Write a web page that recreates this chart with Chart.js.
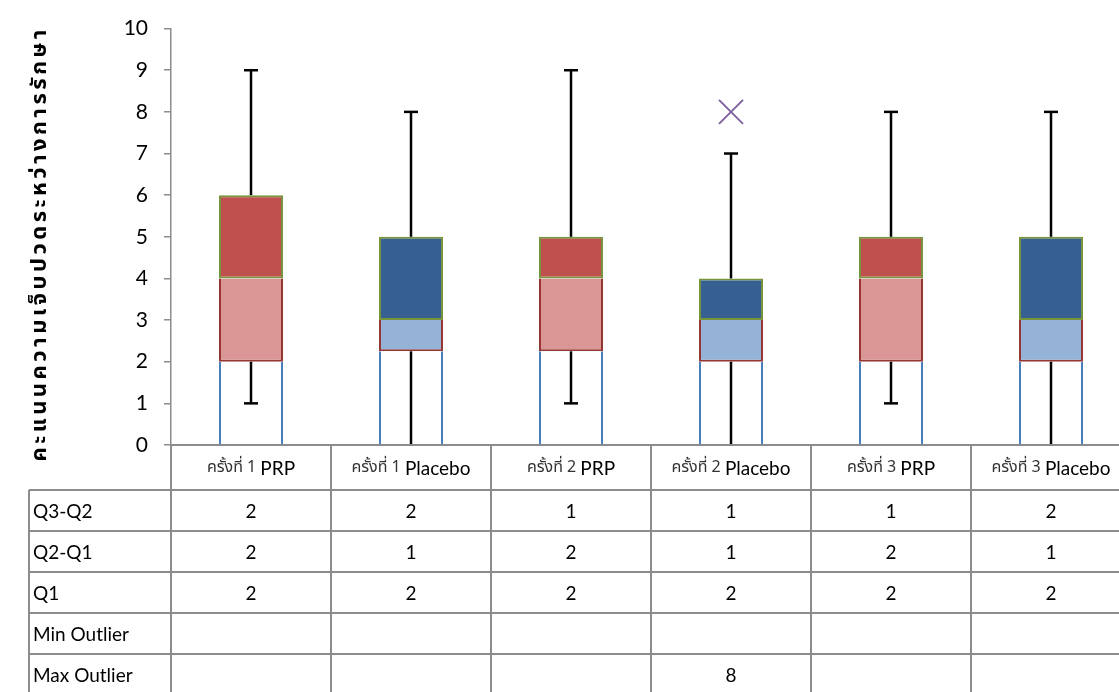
<!DOCTYPE html>
<html>
<head>
<meta charset="utf-8">
<script src="https://cdn.jsdelivr.net/npm/chart.js@4.4.0/dist/chart.umd.min.js"></script>
<style>
  html, body { margin: 0; padding: 0; background: #fff; overflow: hidden; }
  #wrap { width: 1160px; height: 692px; }
</style>
</head>
<body>
<div id="wrap"><canvas id="boxChart" width="1160" height="692"></canvas></div>
<script>
"use strict";

// categories: thai prefix + group name
const categories = ['ครั้งที่ 1 PRP', 'ครั้งที่ 1 Placebo', 'ครั้งที่ 2 PRP', 'ครั้งที่ 2 Placebo', 'ครั้งที่ 3 PRP', 'ครั้งที่ 3 Placebo'];

// stacked box parts (table shows them rounded)
const q1 = [2, 2.25, 2.25, 2, 2, 2];
const q2MinusQ1 = [2, 0.75, 1.75, 1, 2, 1];
const q3MinusQ2 = [2, 2, 1, 1, 1, 2];

// whisker ends
const whiskerLow = [1, 0, 1, 0, 1, 0];
const whiskerHigh = [9, 8, 9, 7, 8, 8];

const minOutlier = [null, null, null, null, null, null];
const maxOutlier = [null, null, null, 8, null, null];

const yTicks = [0, 1, 2, 3, 4, 5, 6, 7, 8, 9, 10];
const yTitle = 'คะแนนความเจ็บปวดระหว่างการรักษา';
const rowLabels = ['Q3-Q2', 'Q2-Q1', 'Q1', 'Min Outlier', 'Max Outlier'];

const FONT = "Lato, 'Open Sans', 'Noto Sans', 'Noto Sans Thai', 'DejaVu Sans', sans-serif";
const THAI_FONT = "'Noto Sans Thai', 'Noto Sans', Lato, sans-serif";
const GRID = '#8c8c8c';

const isPRP = categories.map(c => c.endsWith('PRP'));
const midColors = isPRP.map(p => p ? '#D99694' : '#95B3D7');
const topColors = isPRP.map(p => p ? '#C0504D' : '#376092');

// whiskers drawn on top of the boxes
const whiskerPlugin = {
    id: 'whiskers',
    afterDatasetsDraw(chart) {
        const { ctx, scales: { x, y } } = chart;
        ctx.save();
        ctx.strokeStyle = '#000';
        ctx.lineWidth = 2.5;
        categories.forEach((c, i) => {
            const cx = x.getPixelForValue(i);
            const boxTop = q1[i] + q2MinusQ1[i] + q3MinusQ2[i];
            [[q1[i], whiskerLow[i]], [boxTop, whiskerHigh[i]]].forEach(([from, to]) => {
                ctx.beginPath();
                ctx.moveTo(cx, y.getPixelForValue(from));
                ctx.lineTo(cx, y.getPixelForValue(to));
                ctx.stroke();
                if (to > y.min) {
                    const py = y.getPixelForValue(to);
                    ctx.beginPath();
                    ctx.moveTo(cx - 7, py);
                    ctx.lineTo(cx + 7, py);
                    ctx.stroke();
                }
            });
        });
        ctx.restore();
    }
};

// y title drawn by hand so the letter spacing can be widened
const titlePlugin = {
    id: 'yTitle',
    afterDraw(chart) {
        const { ctx, chartArea } = chart;
        ctx.save();
        ctx.translate(42, (chartArea.top + chartArea.bottom) / 2 + 7);
        ctx.rotate(-Math.PI / 2);
        ctx.font = `bold 22px ${THAI_FONT}`;
        ctx.letterSpacing = '3.5px';
        ctx.fillStyle = '#000';
        ctx.textAlign = 'center';
        ctx.textBaseline = 'middle';
        ctx.fillText(yTitle, 0, 0);
        ctx.restore();
    }
};

// data table under the plot
const tablePlugin = {
    id: 'dataTable',
    afterDraw(chart) {
        const { ctx, chartArea, scales: { x } } = chart;
        const half = (x.getPixelForValue(1) - x.getPixelForValue(0)) / 2;
        const top = chartArea.bottom;
        const headH = 45, rowH = 41, leftX = 29;
        const firstX = x.getPixelForValue(0) - half;
        const lastX = x.getPixelForValue(categories.length - 1) + half;
        const rows = [q3MinusQ2, q2MinusQ1, q1, minOutlier, maxOutlier];
        const bottom = top + headH + rowH * rows.length;

        ctx.save();
        ctx.strokeStyle = GRID;
        ctx.lineWidth = 2;
        ctx.beginPath();
        ctx.moveTo(firstX, top); ctx.lineTo(lastX, top);
        for (let r = 0; r <= rows.length; r++) {
            const yy = top + headH + r * rowH;
            ctx.moveTo(leftX, yy); ctx.lineTo(lastX, yy);
        }
        ctx.moveTo(leftX, top + headH); ctx.lineTo(leftX, bottom);
        for (let i = 0; i <= categories.length; i++) {
            const xx = firstX + i * half * 2;
            ctx.moveTo(xx, top); ctx.lineTo(xx, bottom);
        }
        ctx.stroke();

        ctx.textBaseline = 'middle';
        // header labels: thai part thin, group name larger
        categories.forEach((c, i) => {
            const cut = c.lastIndexOf(' ');
            const pre = c.slice(0, cut + 1), name = c.slice(cut + 1);
            const preFont = `16px ${THAI_FONT}`, nameFont = `19px ${FONT}`;
            ctx.font = preFont;
            const w1 = ctx.measureText(pre).width;
            ctx.font = nameFont;
            const w2 = ctx.measureText(name).width;
            const start = x.getPixelForValue(i) - (w1 + w2) / 2;
            const cy = top + headH / 2 + 1;
            ctx.textAlign = 'left';
            ctx.font = preFont;
            ctx.fillStyle = '#333';
            ctx.fillText(pre, start, cy);
            ctx.font = nameFont;
            ctx.fillStyle = '#000';
            ctx.fillText(name, start + w1, cy);
        });

        ctx.font = `19px ${FONT}`;
        ctx.fillStyle = '#000';
        rows.forEach((vals, r) => {
            const cy = top + headH + r * rowH + rowH / 2 + 1;
            ctx.textAlign = 'left';
            ctx.fillText(rowLabels[r], leftX + 4, cy);
            ctx.textAlign = 'center';
            vals.forEach((v, i) => {
                if (v == null) return;
                ctx.fillText(String(Math.round(v)), x.getPixelForValue(i), cy);
            });
        });
        ctx.restore();
    }
};

const barBase = { type: 'bar', categoryPercentage: 1, barPercentage: 0.4, borderSkipped: false };

new Chart(document.getElementById('boxChart'), {
    data: {
        labels: categories,
        datasets: [
            { ...barBase, label: rowLabels[2], data: q1, backgroundColor: '#ffffff', borderColor: '#4A7EBB',
              borderWidth: { left: 2, right: 2, top: 0, bottom: 0 } },
            { ...barBase, label: rowLabels[1], data: q2MinusQ1, backgroundColor: midColors, borderColor: '#953735',
              borderWidth: { left: 2, right: 2, top: 0, bottom: 2 } },
            { ...barBase, label: rowLabels[0], data: q3MinusQ2, backgroundColor: topColors, borderColor: '#77933C',
              borderWidth: 2 },
            { type: 'line', label: rowLabels[3], data: minOutlier, showLine: false,
              pointStyle: 'crossRot', pointRadius: 17, borderColor: '#8064A2', borderWidth: 2 },
            { type: 'line', label: rowLabels[4], data: maxOutlier, showLine: false,
              pointStyle: 'crossRot', pointRadius: 17, borderColor: '#8064A2', borderWidth: 2 }
        ]
    },
    options: {
        responsive: false,
        animation: false,
        layout: { padding: { left: 0, top: 24, right: 29, bottom: 247 } },
        plugins: { legend: { display: false }, tooltip: { enabled: false } },
        scales: {
            x: { stacked: true, display: false, offset: true },
            y: {
                stacked: true,
                min: yTicks[0],
                max: yTicks[yTicks.length - 1],
                afterBuildTicks: scale => { scale.ticks = yTicks.map(v => ({ value: v })); },
                afterFit: scale => { scale.width = 171; },
                ticks: { color: '#000', padding: 16, font: { size: 21, family: FONT } },
                grid: { drawOnChartArea: false, tickLength: 7, color: GRID, lineWidth: 1.5 },
                border: { color: GRID, width: 1.5 },
                title: { display: false }
            }
        }
    },
    plugins: [whiskerPlugin, titlePlugin, tablePlugin]
});
</script>
</body>
</html>
